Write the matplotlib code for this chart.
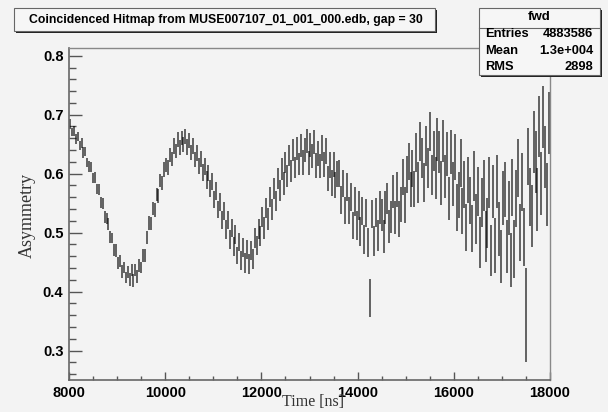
import numpy as np
import matplotlib
matplotlib.use("Agg")
from matplotlib import pyplot as plt
from matplotlib.patches import Rectangle
from matplotlib.ticker import MultipleLocator

# bin centres, 40 ns wide, 8000..18000 ns
t_start = 8000
t_step = 40

asym = [
    0.684, 0.671, 0.672, 0.659, 0.663, 0.648, 0.652, 0.636, 0.638, 0.619,
    0.612, 0.611, 0.593, 0.594, 0.574, 0.573, 0.551, 0.549, 0.527, 0.524,
    0.514, 0.493, 0.491, 0.470, 0.469, 0.449, 0.452, 0.434, 0.441, 0.424,
    0.433, 0.421, 0.436, 0.419, 0.437, 0.426, 0.445, 0.441, 0.462, 0.462,
    0.492, 0.516, 0.515, 0.541, 0.539, 0.565, 0.562, 0.588, 0.584, 0.607,
    0.614, 0.611, 0.632, 0.625, 0.647, 0.638, 0.658, 0.644, 0.661, 0.649,
    0.663, 0.645, 0.656, 0.636, 0.647, 0.624, 0.635, 0.613, 0.625, 0.602,
    0.612, 0.589, 0.601, 0.575, 0.587, 0.556, 0.571, 0.539, 0.552, 0.521,
    0.537, 0.505, 0.521, 0.489, 0.508, 0.476, 0.497, 0.461, 0.484, 0.453,
    0.475, 0.449, 0.472, 0.447, 0.469, 0.456, 0.491, 0.478, 0.506, 0.495,
    0.526, 0.508, 0.541, 0.523, 0.560, 0.539, 0.575, 0.553, 0.592, 0.571,
    0.608, 0.583, 0.619, 0.596, 0.631, 0.605, 0.640, 0.611, 0.643, 0.616,
    0.648, 0.619, 0.640, 0.655, 0.618, 0.649, 0.630, 0.654, 0.614, 0.634,
    0.613, 0.644, 0.615, 0.638, 0.592, 0.615, 0.584, 0.616, 0.580, 0.599,
    0.601, 0.555, 0.584, 0.538, 0.577, 0.537, 0.561, 0.512, 0.553, 0.512,
    0.546, 0.502, 0.537, 0.488, 0.533, 0.483, 0.389, 0.531, 0.486, 0.534,
    0.495, 0.543, 0.530, 0.493, 0.542, 0.558, 0.511, 0.526, 0.569, 0.525,
    0.573, 0.523, 0.548, 0.594, 0.547, 0.599, 0.621, 0.573, 0.609, 0.574,
    0.636, 0.585, 0.654, 0.627, 0.585, 0.647, 0.609, 0.671, 0.597, 0.638,
    0.593, 0.658, 0.637, 0.584, 0.655, 0.595, 0.633, 0.558, 0.637, 0.582,
    0.629, 0.543, 0.563, 0.618, 0.537, 0.582, 0.508, 0.589, 0.555, 0.507,
    0.596, 0.523, 0.570, 0.483, 0.551, 0.580, 0.493, 0.516, 0.585, 0.470,
    0.569, 0.478, 0.587, 0.506, 0.460, 0.559, 0.573, 0.477, 0.542, 0.454,
    0.577, 0.472, 0.558, 0.609, 0.500, 0.586, 0.492, 0.360, 0.629, 0.560,
    0.528, 0.654, 0.620, 0.556, 0.680, 0.583, 0.696, 0.628, 0.565, 0.686,
]

err = [
    0.008, 0.007, 0.008, 0.008, 0.007, 0.008, 0.008, 0.009, 0.008, 0.008,
    0.009, 0.009, 0.008, 0.009, 0.009, 0.010, 0.009, 0.009, 0.010, 0.009,
    0.010, 0.010, 0.009, 0.010, 0.011, 0.010, 0.010, 0.011, 0.010, 0.010,
    0.010, 0.011, 0.010, 0.011, 0.010, 0.011, 0.011, 0.010, 0.011, 0.011,
    0.011, 0.012, 0.011, 0.011, 0.012, 0.011, 0.012, 0.011, 0.012, 0.012,
    0.012, 0.013, 0.012, 0.012, 0.013, 0.012, 0.013, 0.013, 0.012, 0.013,
    0.013, 0.014, 0.013, 0.013, 0.014, 0.013, 0.014, 0.013, 0.014, 0.014,
    0.014, 0.015, 0.014, 0.015, 0.014, 0.015, 0.015, 0.014, 0.015, 0.015,
    0.015, 0.016, 0.015, 0.016, 0.015, 0.016, 0.016, 0.015, 0.016, 0.016,
    0.016, 0.017, 0.016, 0.017, 0.016, 0.017, 0.017, 0.016, 0.017, 0.017,
    0.017, 0.018, 0.017, 0.018, 0.017, 0.018, 0.018, 0.017, 0.018, 0.018,
    0.018, 0.019, 0.018, 0.019, 0.018, 0.019, 0.019, 0.018, 0.019, 0.019,
    0.020, 0.021, 0.020, 0.020, 0.021, 0.020, 0.021, 0.020, 0.021, 0.021,
    0.021, 0.022, 0.021, 0.022, 0.021, 0.022, 0.022, 0.021, 0.022, 0.022,
    0.023, 0.024, 0.023, 0.023, 0.024, 0.023, 0.024, 0.023, 0.024, 0.024,
    0.024, 0.025, 0.024, 0.025, 0.024, 0.025, 0.032, 0.024, 0.025, 0.025,
    0.027, 0.028, 0.027, 0.028, 0.028, 0.027, 0.028, 0.027, 0.028, 0.028,
    0.030, 0.031, 0.030, 0.031, 0.030, 0.031, 0.031, 0.030, 0.031, 0.031,
    0.033, 0.034, 0.033, 0.034, 0.033, 0.034, 0.034, 0.033, 0.034, 0.034,
    0.036, 0.037, 0.036, 0.037, 0.036, 0.037, 0.037, 0.036, 0.037, 0.037,
    0.039, 0.040, 0.039, 0.040, 0.039, 0.040, 0.040, 0.039, 0.040, 0.040,
    0.042, 0.043, 0.042, 0.043, 0.042, 0.043, 0.043, 0.042, 0.043, 0.043,
    0.045, 0.046, 0.045, 0.046, 0.045, 0.046, 0.046, 0.045, 0.046, 0.046,
    0.048, 0.049, 0.048, 0.049, 0.048, 0.049, 0.049, 0.080, 0.049, 0.049,
    0.052, 0.053, 0.052, 0.053, 0.052, 0.053, 0.053, 0.052, 0.053, 0.053,
]

title = "Coincidenced Hitmap from MUSE007107_01_001_000.edb, gap = 30"
stats_name = "fwd"
stats_rows = [("Entries", "4883586"), ("Mean", "1.3e+004"), ("RMS", "2898")]

bg = "#f3f3f3"
W, H = 608, 412


def main():
    t = t_start + t_step / 2 + t_step * np.arange(len(asym))

    fig = plt.figure(figsize=(W / 100, H / 100), dpi=100, facecolor=bg)
    ax = fig.add_axes([69 / W, 1 - 380 / H, (550 - 69) / W, (380 - 47.5) / H])
    ax.set_facecolor(bg)

    ax.errorbar(t, asym, yerr=err, fmt="none", ecolor="black",
                elinewidth=1.4, alpha=0.6, capsize=0)

    ax.set_xlim(8000, 18000)
    ax.set_ylim(0.25, 0.814)
    ax.xaxis.set_major_locator(MultipleLocator(2000))
    ax.xaxis.set_minor_locator(MultipleLocator(500))
    ax.yaxis.set_major_locator(MultipleLocator(0.1))
    ax.yaxis.set_minor_locator(MultipleLocator(0.02))
    ax.tick_params(axis="both", which="both", direction="in", colors="#555555",
                   labelcolor="black", width=1.0)
    ax.tick_params(axis="y", which="major", length=9, pad=4)
    ax.tick_params(axis="y", which="minor", length=5)
    ax.tick_params(axis="x", which="major", length=6, pad=4)
    ax.tick_params(axis="x", which="minor", length=3)
    ax.tick_params(right=False, top=False)
    for lab in ax.get_xticklabels() + ax.get_yticklabels():
        lab.set_family("Liberation Sans")
        lab.set_fontweight("bold")
        lab.set_fontsize(10.5)

    for side in ["left", "bottom"]:
        ax.spines[side].set_color("#666666")
        ax.spines[side].set_linewidth(1.2)
    for side in ["top", "right"]:
        ax.spines[side].set_color("#888888")
        ax.spines[side].set_linewidth(1.0)

    fig.text(27 / W, 1 - 215 / H, "Asymmetry", rotation=90, ha="center", va="center",
             family="Liberation Serif", fontsize=13, color="#333333")
    fig.text(313 / W, 1 - 410.5 / H, "Time [ns]", ha="center", va="bottom",
             family="Liberation Serif", fontsize=11.5, color="#333333")

    # title box with shadow
    fig.patches.append(Rectangle((16 / W, 1 - 33 / H), (435 - 14) / W, (31 - 8) / H,
                                 transform=fig.transFigure, facecolor="#222222",
                                 edgecolor="none", zorder=5))
    fig.patches.append(Rectangle((14 / W, 1 - 31 / H), (435 - 14) / W, (31 - 8) / H,
                                 transform=fig.transFigure, facecolor="#f6f6f6",
                                 edgecolor="#666666", linewidth=0.8, zorder=6))
    fig.text(226 / W, 1 - 19.5 / H, title, ha="center", va="center",
             family="Liberation Sans", fontweight="bold", fontsize=8.8, zorder=7)

    # stats box
    fig.patches.append(Rectangle((481 / W, 1 - 77 / H), (600 - 479) / W, (75 - 8) / H,
                                 transform=fig.transFigure, facecolor="#222222",
                                 edgecolor="none", zorder=5))
    fig.patches.append(Rectangle((479 / W, 1 - 75 / H), (600 - 479) / W, (75 - 8) / H,
                                 transform=fig.transFigure, facecolor="#f6f6f6",
                                 edgecolor="#666666", linewidth=0.8, zorder=6))
    fig.lines.append(plt.Line2D([479 / W, 600 / W], [1 - 28 / H, 1 - 28 / H],
                                transform=fig.transFigure, color="#666666",
                                linewidth=0.8, zorder=7))
    fig.text(539.5 / W, 1 - 17 / H, stats_name, ha="center", va="center",
             family="Liberation Sans", fontweight="bold", fontsize=9.5, zorder=7)
    for i, (name, val) in enumerate(stats_rows):
        y = 1 - (34 + 16.7 * i) / H
        fig.text(485 / W, y, name, ha="left", va="center",
                 family="Liberation Sans", fontweight="bold", fontsize=9.3, zorder=7)
        fig.text(593 / W, y, val, ha="right", va="center",
                 family="Liberation Sans", fontweight="bold", fontsize=9.3, zorder=7)

    fig.savefig("out.png", dpi=100, facecolor=bg)


if __name__ == '__main__':
    main()
